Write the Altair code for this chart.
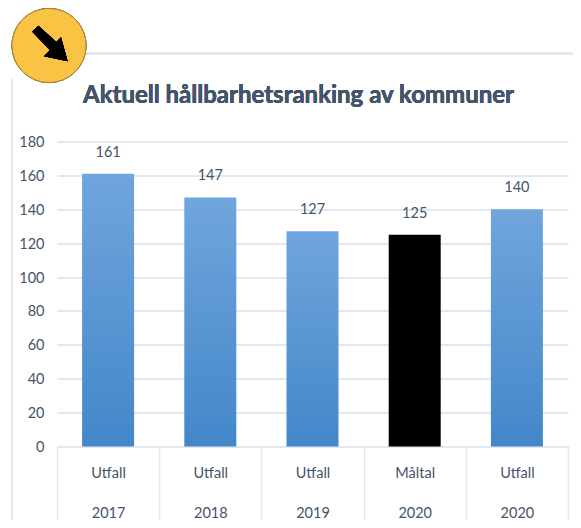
import altair as alt
import pandas as pd

outcome = ["Utfall", "Utfall", "Utfall", "Måltal", "Utfall"]
years = ["2017", "2018", "2019", "2020", "2020"]
values = [161, 147, 127, 125, 140]
TITLE = "Aktuell hållbarhetsranking av kommuner"
FONT = "Lato"
TEXT = "#44546a"
GRID = "#e3e8ef"

df = pd.DataFrame({
    "cat": [f"{o}|{y}" for o, y in zip(outcome, years)],
    "kind": outcome,
    "value": values,
})
order = df["cat"].tolist()

x = alt.X("cat:N", sort=order, title=None,
          scale=alt.Scale(paddingInner=0, paddingOuter=0),
          axis=alt.Axis(labelExpr="split(datum.label,'|')", labelAngle=0, labelFont=FONT,
                        labelFontSize=14.5, labelColor=TEXT, labelLineHeight=40, labelPadding=-59,
                        labelBaseline="top", tickBand="extent", tickSize=79, tickColor=GRID,
                        tickWidth=1.5, domainColor=GRID, domainWidth=2))
y = alt.Y("value:Q", title=None,
          scale=alt.Scale(domain=[0, 180], nice=False),
          axis=alt.Axis(values=list(range(0, 181, 20)), grid=True, gridColor=GRID, gridWidth=2,
                        domain=False, ticks=False, labelFont=FONT, labelFontSize=14.5,
                        labelColor=TEXT, labelPadding=13, labelOffset=1))

gradient = alt.Gradient(gradient="linear", x1=0, x2=0, y1=0, y2=1,
                        stops=[alt.GradientStop(color="#70a5dd", offset=0),
                               alt.GradientStop(color="#4387c9", offset=1)])

base = alt.Chart(df)
blue = base.transform_filter("datum.kind == 'Utfall'").mark_bar(color=gradient, size=52).encode(x=x, y=y)
black = base.transform_filter("datum.kind == 'Måltal'").mark_bar(color="#000000", size=52).encode(x=x, y=y)
labels = base.mark_text(font=FONT, fontSize=14.5, color=TEXT, baseline="bottom", dy=-14).encode(
    x=x, y=y, text="value:Q")

frame_left = alt.Chart(df).mark_rule(color=GRID, strokeWidth=2).encode(
    x=alt.value(-45), y=alt.value(-62), y2=alt.value(381))
frame_top = alt.Chart(df).mark_rule(color=GRID, strokeWidth=2).encode(
    x=alt.value(25), x2=alt.value(516), y=alt.value(-88))
badge = alt.Chart(df).mark_point(shape="circle", size=5500, filled=True, fill="#fbc344",
                                 stroke="#a5823f", strokeWidth=1, opacity=1).encode(
    x=alt.value(-8), y=alt.value(-96))
ARROW = "M-1 -0.66 L-0.66 -1 L0.36 -0.08 L0.62 -0.36 L1 1 L-0.34 0.72 L0.0 0.38 Z"
arrow = alt.Chart(df).mark_point(shape=ARROW, size=1250, filled=True, fill="#000000",
                                 opacity=1, strokeWidth=0).encode(
    x=alt.value(-7), y=alt.value(-98))
title = alt.Chart(df).mark_text(text=TITLE, font=FONT, fontSize=24, fontWeight="bold", color=TEXT,
                                align="center", baseline="alphabetic").encode(
    x=alt.value(241.5), y=alt.value(-38.5))

chart = (
    alt.layer(blue, black, labels, frame_left, frame_top, badge, arrow, title)
    .properties(
        width=511, height=305,
        padding={"left": 49, "top": 133.5, "right": 5, "bottom": 73},
        autosize=alt.AutoSizeParams(type="none"),
    )
    .configure_view(stroke=None)
)
chart.save("out.html", embed_options={"renderer": "svg", "actions": False})
